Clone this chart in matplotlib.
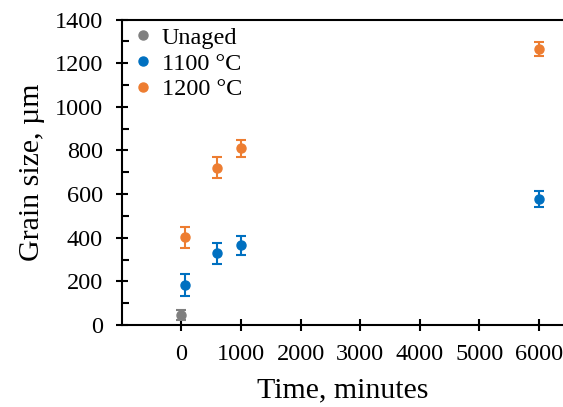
import numpy as np
import matplotlib
matplotlib.use('Agg')
import matplotlib.pyplot as plt
from matplotlib.ticker import MultipleLocator
from matplotlib.lines import Line2D

plt.rcParams['font.family'] = ['Liberation Serif', 'DejaVu Serif']

# data
unaged_t = [0]
unaged_size = [47]
unaged_err = [23]

t_1100 = [60, 600, 1000, 6000]
size_1100 = [184, 328, 366, 577]
err_1100 = [50, 48, 43, 38]

t_1200 = [60, 600, 1000, 6000]
size_1200 = [401, 721, 809, 1265]
err_1200 = [50, 47, 40, 34]

labels = ['Unaged', '1100 °C', '1200 °C']
colors = ['#7F7F7F', '#0070C0', '#ED7D31']

fig = plt.figure(figsize=(5.63, 4.07), dpi=100)
ax = fig.add_axes([0.216, 0.2015, 0.784, 0.7505])

series = [(unaged_t, unaged_size, unaged_err),
          (t_1100, size_1100, err_1100),
          (t_1200, size_1200, err_1200)]
for (t, s, e), c in zip(series, colors):
    ax.errorbar(t, s, yerr=e, fmt='o', color=c, markersize=6.5, capsize=3.5,
                elinewidth=1.5, capthick=1.5)

ax.set_xlim(-1000, 6400)
ax.set_ylim(0, 1400)
ax.set_xticks(np.arange(0, 7000, 1000))
ax.yaxis.set_major_locator(MultipleLocator(200))
ax.yaxis.set_minor_locator(MultipleLocator(100))

ax.spines['right'].set_visible(False)
for s in ['left', 'bottom', 'top']:
    ax.spines[s].set_linewidth(1.5)
    ax.spines[s].set_color('black')

ax.tick_params(axis='both', which='major', direction='inout', length=9, width=1.5,
               labelsize=17.5, pad=9, top=False, right=False)
ax.tick_params(axis='y', which='minor', direction='in', length=5, width=1.5,
               right=False)

ax.set_xlabel('Time, minutes', fontsize=21.5, labelpad=9)
ax.set_ylabel('Grain size, µm', fontsize=21.5, labelpad=7)

handles = [Line2D([], [], marker='o', linestyle='none', color=c, markersize=6.5)
           for c in colors]
ax.legend(handles, labels, loc='upper left', frameon=False, fontsize=17.5,
          handletextpad=0.15, borderaxespad=0.0, labelspacing=0.15,
          handlelength=1.2, borderpad=0.3)

fig.savefig('out.png', dpi=100)
